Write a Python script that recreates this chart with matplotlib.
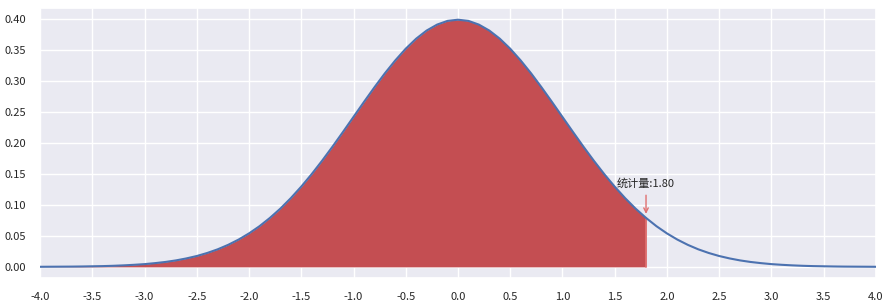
import matplotlib
matplotlib.use("Agg")
import matplotlib.pyplot as plt
import seaborn as sns
import numpy as np

sns.set_theme(style="darkgrid", color_codes=True)
plt.rcParams['font.family'] = ['Noto Sans CJK SC', 'DejaVu Sans']
plt.rcParams['axes.unicode_minus'] = True

# right half of curve (x >= 0); curve is symmetric
x_half = [0.0, 0.1, 0.2, 0.3, 0.4, 0.5, 0.6, 0.7, 0.8, 0.9, 1.0,
          1.1, 1.2, 1.3, 1.4, 1.5, 1.6, 1.7, 1.8, 1.9, 2.0,
          2.1, 2.2, 2.3, 2.4, 2.5, 2.6, 2.7, 2.8, 2.9, 3.0,
          3.1, 3.2, 3.3, 3.4, 3.5, 3.6, 3.7, 3.8, 3.9, 4.0]
y_half = [0.3989, 0.3970, 0.3910, 0.3814, 0.3683, 0.3521, 0.3332, 0.3123, 0.2897, 0.2661, 0.2420,
          0.2179, 0.1942, 0.1714, 0.1497, 0.1295, 0.1109, 0.0940, 0.0790, 0.0656, 0.0540,
          0.0440, 0.0355, 0.0283, 0.0224, 0.0175, 0.0136, 0.0104, 0.0079, 0.0060, 0.0044,
          0.0033, 0.0024, 0.0017, 0.0012, 0.0009, 0.0006, 0.0004, 0.0003, 0.0002, 0.0001]
stat_value = 1.80
stat_label = "统计量:1.80"

x = np.array([-v for v in x_half[:0:-1]] + x_half)
y = np.array(y_half[:0:-1] + y_half)

fig = plt.figure(figsize=(8.91, 3.03), dpi=100)
ax = fig.add_axes([0.045, 0.0825, 0.938, 0.8915])

ax.plot(x, y, color='#4C72B0', lw=1.5, zorder=3)
mask = x <= stat_value
ax.fill_between(x[mask], y[mask], 0, color='#C44E52', lw=0, zorder=2)
ax.plot([stat_value, stat_value], [0, y_half[x_half.index(stat_value)]], color='#E07070', lw=1.2, zorder=2)

ax.annotate(stat_label, xy=(stat_value, y_half[x_half.index(stat_value)] + 0.002),
            xytext=(stat_value, 0.134), ha='center', va='center', fontsize=8,
            arrowprops=dict(arrowstyle='->', color='#E07070', lw=1))

ax.set_xlim(-4, 4)
ax.set_ylim(-0.018, 0.418)
ax.set_xticks(np.arange(-4, 4.01, 0.5))
ax.set_yticks(np.arange(0, 0.401, 0.05))
ax.set_xticklabels([f"{v:.1f}" for v in np.arange(-4, 4.01, 0.5)])
ax.set_yticklabels([f"{v:.2f}" for v in np.arange(0, 0.401, 0.05)])
ax.tick_params(labelsize=8, colors='#262626', pad=4)

fig.savefig("out.png", dpi=100)
